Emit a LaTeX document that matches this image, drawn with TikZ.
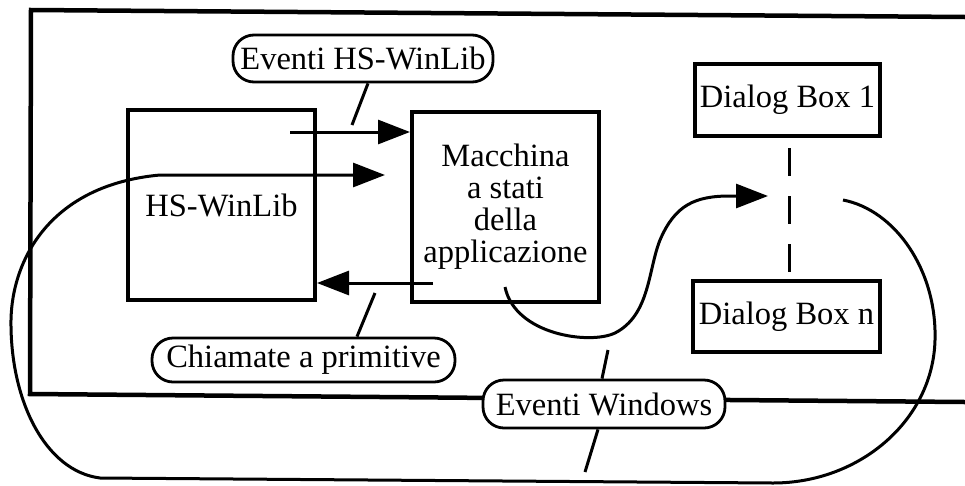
\documentclass[tikz,border=0pt]{standalone}
\usepackage{fontspec}
\setmainfont{Liberation Serif}
\usetikzlibrary{arrows.meta}
\begin{document}
\begin{tikzpicture}[x=1pt,y=-1pt,
  frameline/.style={line width=4.5pt,line join=miter},
  boxnode/.style={draw,line width=4pt,inner sep=0pt,align=center,
    font=\fontsize{32.5}{32}\selectfont},
  tag/.style={draw,fill=white,line width=2.8pt,rounded corners=21pt,inner sep=0pt,
    font=\fontsize{32.5}{32}\selectfont},
  conn/.style={line width=3pt},
  arr/.style={conn,-{Triangle[length=32pt,width=24pt]}},
  pointer/.style={line width=3pt},
  dashline/.style={line width=3pt,dash pattern=on 28pt off 20pt}]
\useasboundingbox (0,0) rectangle (965,485);
% frame
\draw[frameline] (965,17) -- (31,10) -- (30,394) -- (965,402);
% boxes
\node[boxnode,minimum width=187pt,minimum height=190pt] (hs) at (221.5,205) {HS-WinLib};
\node[boxnode,minimum width=187pt,minimum height=190pt] (mac) at (505.5,207)
  {Macchina\\a stati\\della\\applicazione};
\node[boxnode,minimum width=185pt,minimum height=72pt] (d1) at (787.5,100) {Dialog Box 1};
\node[boxnode,minimum width=187pt,minimum height=71pt] (dn) at (786.5,316.5) {Dialog Box n};
% dashed link between dialog boxes
\coordinate (da) at (789,148);
\coordinate (db) at (789,272);
\draw[dashline] (da) -- (db);
% Eventi HS-WinLib arrow
\coordinate (e1) at (290,132);
\draw[arr] (e1) -- (mac.west |- e1);
% Chiamate a primitive arrow
\coordinate (c1) at (433,283);
\draw[arr] (c1) -- (hs.east |- c1);
% big Windows loop
\coordinate (w0) at (843,200);
\coordinate (w1) at (385,175);
\draw[arr] (w0) .. controls (895,210) and (937,270) .. (935,340)
  .. controls (933,420) and (860,483) .. (773,483) -- (100,478)
  .. controls (45,471) and (10,400) .. (11,320)
  .. controls (12,260) and (50,185) .. (160,175) -- (w1);
% Macchina to dialog boxes
\coordinate (m0) at (505,287);
\coordinate (m1) at (768,196);
\draw[arr] (m0) .. controls (515,335) and (590,345) .. (615,333)
  .. controls (650,315) and (648,270) .. (660,240)
  .. controls (675,205) and (695,196) .. (730,196) -- (m1);
% tags
\node[tag,minimum width=260pt,minimum height=47pt] (t1) at (363,58.5) {Eventi HS-WinLib};
\node[tag,minimum width=303pt,minimum height=44pt] (t2) at (303.5,360) {Chiamate a primitive};
\node[tag,minimum width=242pt,minimum height=48pt] (t3) at (604,404) {Eventi Windows};
% pointers
\coordinate (p1) at (352,125);
\draw[pointer] (t1.south -| 368,0) -- (p1);
\coordinate (p2) at (375,293);
\draw[pointer] (t2.north -| 357,0) -- (p2);
\coordinate (p3) at (608,350);
\draw[pointer] (t3.north -| 602,0) -- (p3);
\coordinate (p4) at (585,472);
\draw[pointer] (t3.south -| 598,0) -- (p4);
\end{tikzpicture}
\end{document}
